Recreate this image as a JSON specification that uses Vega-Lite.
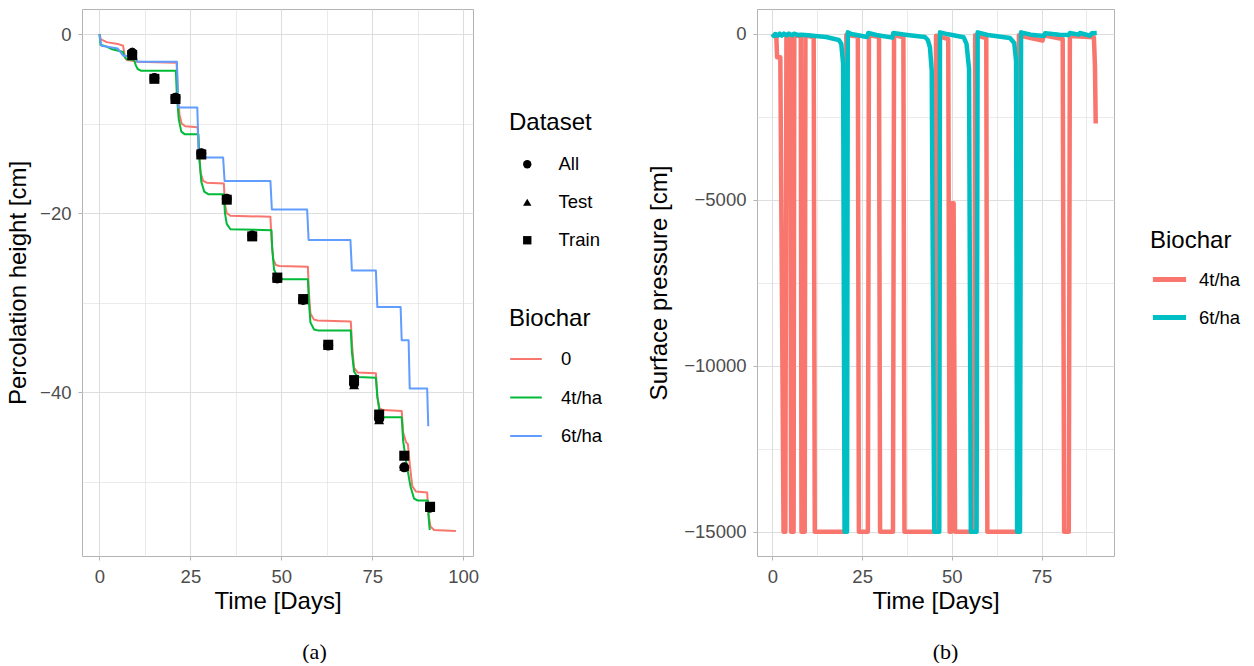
{
  "$schema": "https://vega.github.io/schema/vega-lite/v6.json",
  "padding": {"left": 6, "top": 8, "right": 0, "bottom": 0},
  "background": "white",
  "spacing": 43,
  "resolve": {"scale": {"color": "independent", "shape": "independent"}, "legend": {"color": "independent", "shape": "independent"}},
  "config": {
    "font": "Liberation Sans",
    "view": {"stroke": "#B3B3B3", "strokeWidth": 1},
    "axis": {
      "labelFont": "Liberation Sans", "labelFontSize": 18.5, "labelColor": "#4D4D4D",
      "titleFont": "Liberation Sans", "titleFontSize": 24, "titleFontWeight": "normal", "titleColor": "black",
      "domain": false, "tickColor": "#B3B3B3", "tickSize": 4, "labelPadding": 7,
      "gridColor": "#DEDEDE"
    },
    "legend": {
      "titleFont": "Liberation Sans", "titleFontSize": 24, "titleFontWeight": "normal", "titleColor": "black",
      "labelFont": "Liberation Sans", "labelFontSize": 18.5, "labelColor": "black"
    },
    "title": {"font": "Liberation Serif", "fontSize": 22, "fontWeight": "normal", "color": "black"}
  },
  "datasets": {
    "perc": [
      {"t": 0, "h": 0, "b": "0"}, {"t": 0.4, "h": -0.6, "b": "0"}, {"t": 2, "h": -0.9, "b": "0"}, {"t": 5, "h": -1.1, "b": "0"}, {"t": 6.5, "h": -1.3, "b": "0"}, {"t": 7, "h": -2.6, "b": "0"}, {"t": 7.5, "h": -2.9, "b": "0"}, {"t": 9.5, "h": -3.0, "b": "0"}, {"t": 10, "h": -3.1, "b": "0"}, {"t": 21.2, "h": -3.2, "b": "0"}, {"t": 21.5, "h": -6, "b": "0"}, {"t": 22, "h": -9, "b": "0"}, {"t": 22.6, "h": -10, "b": "0"}, {"t": 23.6, "h": -10.3, "b": "0"}, {"t": 27, "h": -10.4, "b": "0"}, {"t": 27.3, "h": -13, "b": "0"}, {"t": 27.8, "h": -15.5, "b": "0"}, {"t": 28.5, "h": -16.4, "b": "0"}, {"t": 29.5, "h": -16.6, "b": "0"}, {"t": 34.2, "h": -16.7, "b": "0"}, {"t": 34.5, "h": -19, "b": "0"}, {"t": 35, "h": -20, "b": "0"}, {"t": 36, "h": -20.3, "b": "0"}, {"t": 47, "h": -20.4, "b": "0"}, {"t": 47.3, "h": -23, "b": "0"}, {"t": 47.8, "h": -25.2, "b": "0"}, {"t": 48.5, "h": -25.8, "b": "0"}, {"t": 49.5, "h": -25.9, "b": "0"}, {"t": 57.3, "h": -26, "b": "0"}, {"t": 57.6, "h": -29, "b": "0"}, {"t": 58, "h": -31.2, "b": "0"}, {"t": 59, "h": -31.9, "b": "0"}, {"t": 60, "h": -32, "b": "0"}, {"t": 69.1, "h": -32.1, "b": "0"}, {"t": 69.5, "h": -35, "b": "0"}, {"t": 70, "h": -37.3, "b": "0"}, {"t": 71, "h": -37.8, "b": "0"}, {"t": 76, "h": -37.9, "b": "0"}, {"t": 76.4, "h": -40.5, "b": "0"}, {"t": 77, "h": -41.8, "b": "0"}, {"t": 78, "h": -42, "b": "0"}, {"t": 83.1, "h": -42.1, "b": "0"}, {"t": 83.5, "h": -44.5, "b": "0"}, {"t": 84.3, "h": -45.6, "b": "0"}, {"t": 84.8, "h": -45.8, "b": "0"}, {"t": 85.3, "h": -48, "b": "0"}, {"t": 86, "h": -50.5, "b": "0"}, {"t": 87, "h": -51.1, "b": "0"}, {"t": 90.1, "h": -51.2, "b": "0"}, {"t": 90.4, "h": -53.5, "b": "0"}, {"t": 91, "h": -55, "b": "0"}, {"t": 92, "h": -55.4, "b": "0"}, {"t": 98, "h": -55.5, "b": "0"},
      {"t": 0, "h": 0, "b": "4t/ha"}, {"t": 0.3, "h": -1.2, "b": "4t/ha"}, {"t": 2, "h": -1.4, "b": "4t/ha"}, {"t": 3.5, "h": -1.7, "b": "4t/ha"}, {"t": 5.5, "h": -1.9, "b": "4t/ha"}, {"t": 6.5, "h": -2.0, "b": "4t/ha"}, {"t": 7, "h": -2.6, "b": "4t/ha"}, {"t": 7.5, "h": -2.8, "b": "4t/ha"}, {"t": 9.5, "h": -2.9, "b": "4t/ha"}, {"t": 10, "h": -3.5, "b": "4t/ha"}, {"t": 10.5, "h": -3.9, "b": "4t/ha"}, {"t": 11.5, "h": -4.1, "b": "4t/ha"}, {"t": 21, "h": -4.1, "b": "4t/ha"}, {"t": 21.3, "h": -7, "b": "4t/ha"}, {"t": 21.8, "h": -9.5, "b": "4t/ha"}, {"t": 22.5, "h": -10.9, "b": "4t/ha"}, {"t": 23.5, "h": -11.2, "b": "4t/ha"}, {"t": 27.2, "h": -11.2, "b": "4t/ha"}, {"t": 27.5, "h": -14, "b": "4t/ha"}, {"t": 28, "h": -16.5, "b": "4t/ha"}, {"t": 28.8, "h": -17.6, "b": "4t/ha"}, {"t": 30, "h": -17.9, "b": "4t/ha"}, {"t": 34.2, "h": -17.9, "b": "4t/ha"}, {"t": 34.5, "h": -20, "b": "4t/ha"}, {"t": 35, "h": -21.2, "b": "4t/ha"}, {"t": 36, "h": -21.8, "b": "4t/ha"}, {"t": 47.3, "h": -21.9, "b": "4t/ha"}, {"t": 47.5, "h": -24, "b": "4t/ha"}, {"t": 48, "h": -26.3, "b": "4t/ha"}, {"t": 49, "h": -27.2, "b": "4t/ha"}, {"t": 50, "h": -27.4, "b": "4t/ha"}, {"t": 57.3, "h": -27.4, "b": "4t/ha"}, {"t": 57.6, "h": -30, "b": "4t/ha"}, {"t": 58, "h": -32.2, "b": "4t/ha"}, {"t": 59, "h": -33, "b": "4t/ha"}, {"t": 60, "h": -33.1, "b": "4t/ha"}, {"t": 69.1, "h": -33.1, "b": "4t/ha"}, {"t": 69.4, "h": -35.5, "b": "4t/ha"}, {"t": 70, "h": -37.7, "b": "4t/ha"}, {"t": 71, "h": -38.3, "b": "4t/ha"}, {"t": 76, "h": -38.4, "b": "4t/ha"}, {"t": 76.4, "h": -40.5, "b": "4t/ha"}, {"t": 77, "h": -42.2, "b": "4t/ha"}, {"t": 78, "h": -42.8, "b": "4t/ha"}, {"t": 83.1, "h": -42.8, "b": "4t/ha"}, {"t": 83.5, "h": -45.5, "b": "4t/ha"}, {"t": 84.5, "h": -48.2, "b": "4t/ha"}, {"t": 85.5, "h": -50.5, "b": "4t/ha"}, {"t": 86.5, "h": -51.9, "b": "4t/ha"}, {"t": 87.5, "h": -52.1, "b": "4t/ha"}, {"t": 90.3, "h": -52.1, "b": "4t/ha"}, {"t": 90.5, "h": -54, "b": "4t/ha"}, {"t": 90.8, "h": -55.4, "b": "4t/ha"},
      {"t": 0, "h": 0, "b": "6t/ha"}, {"t": 0.5, "h": -1.3, "b": "6t/ha"}, {"t": 5, "h": -1.6, "b": "6t/ha"}, {"t": 6.5, "h": -2.4, "b": "6t/ha"}, {"t": 10, "h": -2.6, "b": "6t/ha"}, {"t": 10.5, "h": -3.1, "b": "6t/ha"}, {"t": 21.3, "h": -3.1, "b": "6t/ha"}, {"t": 21.7, "h": -8.2, "b": "6t/ha"}, {"t": 26.9, "h": -8.2, "b": "6t/ha"}, {"t": 27.3, "h": -13.8, "b": "6t/ha"}, {"t": 34, "h": -13.8, "b": "6t/ha"}, {"t": 34.4, "h": -16.4, "b": "6t/ha"}, {"t": 47, "h": -16.4, "b": "6t/ha"}, {"t": 47.4, "h": -19.6, "b": "6t/ha"}, {"t": 57.1, "h": -19.6, "b": "6t/ha"}, {"t": 57.5, "h": -23.0, "b": "6t/ha"}, {"t": 69, "h": -23.0, "b": "6t/ha"}, {"t": 69.4, "h": -26.4, "b": "6t/ha"}, {"t": 76, "h": -26.4, "b": "6t/ha"}, {"t": 76.4, "h": -30.5, "b": "6t/ha"}, {"t": 82.8, "h": -30.5, "b": "6t/ha"}, {"t": 83.1, "h": -34.2, "b": "6t/ha"}, {"t": 85, "h": -34.2, "b": "6t/ha"}, {"t": 85.3, "h": -39.6, "b": "6t/ha"}, {"t": 90.1, "h": -39.6, "b": "6t/ha"}, {"t": 90.4, "h": -43.8, "b": "6t/ha"}
    ],
    "obs": [
      {"t": 9, "h": -2.1, "d": "All"}, {"t": 15.1, "h": -4.9, "d": "All"}, {"t": 20.9, "h": -7.1, "d": "All"}, {"t": 28, "h": -13.3, "d": "All"}, {"t": 35, "h": -18.4, "d": "All"}, {"t": 42, "h": -22.5, "d": "All"}, {"t": 48.9, "h": -27.3, "d": "All"}, {"t": 56, "h": -29.7, "d": "All"}, {"t": 62.9, "h": -34.8, "d": "All"}, {"t": 70, "h": -39.1, "d": "All"}, {"t": 76.9, "h": -43.0, "d": "All"}, {"t": 83.8, "h": -48.4, "d": "All"}, {"t": 90.9, "h": -52.9, "d": "All"},
      {"t": 9, "h": -1.95, "d": "Test"}, {"t": 15.1, "h": -4.8, "d": "Test"}, {"t": 20.9, "h": -7.0, "d": "Test"}, {"t": 28, "h": -13.2, "d": "Test"}, {"t": 35, "h": -18.3, "d": "Test"}, {"t": 42, "h": -22.45, "d": "Test"}, {"t": 48.9, "h": -27.3, "d": "Test"}, {"t": 56, "h": -29.7, "d": "Test"}, {"t": 62.9, "h": -34.8, "d": "Test"}, {"t": 70, "h": -39.2, "d": "Test"}, {"t": 76.9, "h": -43.1, "d": "Test"}, {"t": 83.8, "h": -48.3, "d": "Test"}, {"t": 90.9, "h": -52.9, "d": "Test"},
      {"t": 9, "h": -2.35, "d": "Train"}, {"t": 15.1, "h": -5.0, "d": "Train"}, {"t": 20.9, "h": -7.25, "d": "Train"}, {"t": 28, "h": -13.45, "d": "Train"}, {"t": 35, "h": -18.5, "d": "Train"}, {"t": 42, "h": -22.6, "d": "Train"}, {"t": 48.9, "h": -27.2, "d": "Train"}, {"t": 56, "h": -29.6, "d": "Train"}, {"t": 62.9, "h": -34.7, "d": "Train"}, {"t": 70, "h": -38.65, "d": "Train"}, {"t": 76.9, "h": -42.5, "d": "Train"}, {"t": 83.8, "h": -47.1, "d": "Train"}, {"t": 90.9, "h": -52.8, "d": "Train"}
    ],
    "press": [
      {"t": 0, "p": 0, "b": "4t/ha"}, {"t": 1.1, "p": -100, "b": "4t/ha"}, {"t": 1.3, "p": -700, "b": "4t/ha"}, {"t": 2.2, "p": -700, "b": "4t/ha"}, {"t": 3.1, "p": -15000, "b": "4t/ha"}, {"t": 3.6, "p": -15000, "b": "4t/ha"}, {"t": 3.9, "p": -50, "b": "4t/ha"}, {"t": 5.0, "p": -60, "b": "4t/ha"}, {"t": 5.2, "p": -15000, "b": "4t/ha"}, {"t": 5.9, "p": -15000, "b": "4t/ha"}, {"t": 6.1, "p": -40, "b": "4t/ha"}, {"t": 7.9, "p": -70, "b": "4t/ha"}, {"t": 8.1, "p": -15000, "b": "4t/ha"}, {"t": 9.0, "p": -15000, "b": "4t/ha"}, {"t": 9.2, "p": -40, "b": "4t/ha"}, {"t": 11.5, "p": -100, "b": "4t/ha"}, {"t": 11.8, "p": -15000, "b": "4t/ha"}, {"t": 20.3, "p": -15000, "b": "4t/ha"}, {"t": 20.6, "p": -30, "b": "4t/ha"}, {"t": 23.8, "p": -80, "b": "4t/ha"}, {"t": 24.1, "p": -15000, "b": "4t/ha"}, {"t": 26.6, "p": -15000, "b": "4t/ha"}, {"t": 26.9, "p": -30, "b": "4t/ha"}, {"t": 29.7, "p": -90, "b": "4t/ha"}, {"t": 30.0, "p": -15000, "b": "4t/ha"}, {"t": 33.6, "p": -15000, "b": "4t/ha"}, {"t": 33.9, "p": -30, "b": "4t/ha"}, {"t": 36.5, "p": -100, "b": "4t/ha"}, {"t": 36.8, "p": -15000, "b": "4t/ha"}, {"t": 45.3, "p": -15000, "b": "4t/ha"}, {"t": 45.6, "p": -50, "b": "4t/ha"}, {"t": 49.0, "p": -150, "b": "4t/ha"}, {"t": 49.4, "p": -15000, "b": "4t/ha"}, {"t": 49.8, "p": -15000, "b": "4t/ha"}, {"t": 50.0, "p": -5100, "b": "4t/ha"}, {"t": 50.5, "p": -5100, "b": "4t/ha"}, {"t": 50.9, "p": -15000, "b": "4t/ha"}, {"t": 56.2, "p": -15000, "b": "4t/ha"}, {"t": 56.5, "p": -40, "b": "4t/ha"}, {"t": 59.6, "p": -120, "b": "4t/ha"}, {"t": 59.9, "p": -15000, "b": "4t/ha"}, {"t": 68.4, "p": -15000, "b": "4t/ha"}, {"t": 68.7, "p": -40, "b": "4t/ha"}, {"t": 72, "p": -120, "b": "4t/ha"}, {"t": 75.3, "p": -200, "b": "4t/ha"}, {"t": 75.6, "p": -40, "b": "4t/ha"}, {"t": 80.9, "p": -150, "b": "4t/ha"}, {"t": 81.3, "p": -15000, "b": "4t/ha"}, {"t": 82.6, "p": -15000, "b": "4t/ha"}, {"t": 82.9, "p": -60, "b": "4t/ha"}, {"t": 89.6, "p": -100, "b": "4t/ha"}, {"t": 89.9, "p": -1000, "b": "4t/ha"}, {"t": 90.1, "p": -2700, "b": "4t/ha"},
      {"t": 0, "p": 0, "b": "6t/ha"}, {"t": 0.4, "p": -60, "b": "6t/ha"}, {"t": 0.8, "p": 0, "b": "6t/ha"}, {"t": 1.5, "p": -50, "b": "6t/ha"}, {"t": 2.0, "p": 10, "b": "6t/ha"}, {"t": 2.6, "p": -50, "b": "6t/ha"}, {"t": 3.2, "p": 10, "b": "6t/ha"}, {"t": 4.0, "p": -40, "b": "6t/ha"}, {"t": 4.6, "p": 10, "b": "6t/ha"}, {"t": 5.5, "p": -40, "b": "6t/ha"}, {"t": 6.0, "p": 10, "b": "6t/ha"}, {"t": 7.0, "p": -30, "b": "6t/ha"}, {"t": 8, "p": -20, "b": "6t/ha"}, {"t": 10, "p": -40, "b": "6t/ha"}, {"t": 12, "p": -60, "b": "6t/ha"}, {"t": 15, "p": -90, "b": "6t/ha"}, {"t": 18.5, "p": -180, "b": "6t/ha"}, {"t": 19.2, "p": -300, "b": "6t/ha"}, {"t": 19.7, "p": -900, "b": "6t/ha"}, {"t": 20.1, "p": -15000, "b": "6t/ha"}, {"t": 20.8, "p": -15000, "b": "6t/ha"}, {"t": 21.0, "p": 50, "b": "6t/ha"}, {"t": 22, "p": 0, "b": "6t/ha"}, {"t": 26.4, "p": -90, "b": "6t/ha"}, {"t": 26.7, "p": 30, "b": "6t/ha"}, {"t": 29, "p": -30, "b": "6t/ha"}, {"t": 33.4, "p": -110, "b": "6t/ha"}, {"t": 33.7, "p": 30, "b": "6t/ha"}, {"t": 37, "p": -20, "b": "6t/ha"}, {"t": 42.5, "p": -90, "b": "6t/ha"}, {"t": 43.3, "p": -180, "b": "6t/ha"}, {"t": 43.9, "p": -400, "b": "6t/ha"}, {"t": 44.4, "p": -1100, "b": "6t/ha"}, {"t": 45.1, "p": -15000, "b": "6t/ha"}, {"t": 46.5, "p": -15000, "b": "6t/ha"}, {"t": 46.7, "p": 50, "b": "6t/ha"}, {"t": 49, "p": -10, "b": "6t/ha"}, {"t": 53.3, "p": -100, "b": "6t/ha"}, {"t": 54.1, "p": -300, "b": "6t/ha"}, {"t": 54.8, "p": -1050, "b": "6t/ha"}, {"t": 55.3, "p": -15000, "b": "6t/ha"}, {"t": 56.9, "p": -15000, "b": "6t/ha"}, {"t": 57.2, "p": 50, "b": "6t/ha"}, {"t": 60, "p": -30, "b": "6t/ha"}, {"t": 66.2, "p": -120, "b": "6t/ha"}, {"t": 67.4, "p": -270, "b": "6t/ha"}, {"t": 67.9, "p": -800, "b": "6t/ha"}, {"t": 68.2, "p": -15000, "b": "6t/ha"}, {"t": 69.0, "p": -15000, "b": "6t/ha"}, {"t": 69.3, "p": 50, "b": "6t/ha"}, {"t": 72, "p": -20, "b": "6t/ha"}, {"t": 75.7, "p": -60, "b": "6t/ha"}, {"t": 76.0, "p": 20, "b": "6t/ha"}, {"t": 80, "p": -20, "b": "6t/ha"}, {"t": 82.6, "p": -30, "b": "6t/ha"}, {"t": 82.9, "p": 30, "b": "6t/ha"}, {"t": 85.4, "p": -20, "b": "6t/ha"}, {"t": 85.7, "p": 30, "b": "6t/ha"}, {"t": 88.5, "p": -50, "b": "6t/ha"}, {"t": 89, "p": 20, "b": "6t/ha"}, {"t": 90.4, "p": 30, "b": "6t/ha"}
    ]
  },
  "hconcat": [
    {
      "width": 391, "height": 547,
      "title": {"text": "(a)", "orient": "bottom", "anchor": "middle", "frame": "group", "dx": 37, "offset": 28},
      "layer": [
        {
          "data": {"name": "perc"},
          "mark": {"type": "line", "strokeWidth": 2, "strokeJoin": "round", "clip": true},
          "encoding": {
            "x": {"field": "t", "type": "quantitative", "title": "Time [Days]",
              "scale": {"domain": [-4.8, 102.7], "nice": false, "zero": false},
              "axis": {"values": [0, 12.5, 25, 37.5, 50, 62.5, 75, 87.5, 100], "labelExpr": "datum.value % 25 === 0 ? datum.label : ''",
                "tickOpacity": {"condition": {"test": "datum.value % 25 === 0", "value": 1}, "value": 0},
                "gridWidth": {"condition": {"test": "datum.value % 25 === 0", "value": 1.1}, "value": 0.6},
                "labelFlush": false, "titlePadding": 4}},
            "y": {"field": "h", "type": "quantitative", "title": "Percolation height [cm]",
              "scale": {"domain": [-58.3, 2.8], "nice": false, "zero": false},
              "axis": {"values": [-50, -40, -30, -20, -10, 0], "labelExpr": "datum.value % 20 === 0 ? datum.label : ''",
                "tickOpacity": {"condition": {"test": "datum.value % 20 === 0", "value": 1}, "value": 0},
                "gridWidth": {"condition": {"test": "datum.value % 20 === 0", "value": 1.1}, "value": 0.6},
                "labelFlush": false, "labelPadding": 7, "titlePadding": 9}},
            "color": {"field": "b", "type": "nominal",
              "scale": {"domain": ["0", "4t/ha", "6t/ha"], "range": ["#F8766D", "#00BA38", "#619CFF"]},
              "legend": {"title": "Biochar", "orient": "none", "legendX": 427, "legendY": 298, "symbolType": "stroke", "symbolSize": 1000, "symbolStrokeWidth": 2, "rowPadding": 11.5, "titlePadding": 11, "labelOffset": 18}}
          }
        },
        {
          "data": {"name": "obs"},
          "mark": {"type": "point", "filled": true, "size": 100, "color": "black", "opacity": 1},
          "encoding": {
            "x": {"field": "t", "type": "quantitative"},
            "y": {"field": "h", "type": "quantitative"},
            "shape": {"field": "d", "type": "nominal",
              "scale": {"domain": ["All", "Test", "Train"], "range": ["circle", "triangle-up", "square"]},
              "legend": {"title": "Dataset", "orient": "none", "legendX": 427, "legendY": 102, "symbolSize": 70, "symbolFillColor": "black", "symbolStrokeColor": "black", "rowPadding": 19, "titlePadding": 20, "symbolOffset": 9, "labelOffset": 22}}
          }
        }
      ]
    },
    {
      "width": 357, "height": 547,
      "title": {"text": "(b)", "orient": "bottom", "anchor": "middle", "frame": "group", "dx": 10, "offset": 28},
      "data": {"name": "press"},
      "mark": {"type": "line", "strokeWidth": 4.5, "strokeJoin": "round", "clip": true},
      "encoding": {
        "x": {"field": "t", "type": "quantitative", "title": "Time [Days]",
          "scale": {"domain": [-4.3, 95.2], "nice": false, "zero": false},
          "axis": {"values": [0, 12.5, 25, 37.5, 50, 62.5, 75, 87.5], "labelExpr": "datum.value % 25 === 0 ? datum.label : ''",
            "tickOpacity": {"condition": {"test": "datum.value % 25 === 0", "value": 1}, "value": 0},
            "gridWidth": {"condition": {"test": "datum.value % 25 === 0", "value": 1.1}, "value": 0.6},
            "labelFlush": false, "titlePadding": 4}},
        "y": {"field": "p", "type": "quantitative", "title": "Surface pressure [cm]",
          "scale": {"domain": [-15732, 753], "nice": false, "zero": false},
          "axis": {"values": [-15000, -12500, -10000, -7500, -5000, -2500, 0], "format": "d", "labelExpr": "datum.value % 5000 === 0 ? datum.label : ''",
            "tickOpacity": {"condition": {"test": "datum.value % 5000 === 0", "value": 1}, "value": 0},
            "gridWidth": {"condition": {"test": "datum.value % 5000 === 0", "value": 1.1}, "value": 0.6},
            "labelFlush": false, "labelPadding": 7, "titlePadding": 12}},
        "color": {"field": "b", "type": "nominal",
          "scale": {"domain": ["4t/ha", "6t/ha"], "range": ["#F8766D", "#00BFC4"]},
          "legend": {"title": "Biochar", "orient": "none", "legendX": 393, "legendY": 220, "symbolType": "stroke", "symbolSize": 1100, "symbolStrokeWidth": 5, "rowPadding": 8, "titlePadding": 7, "labelOffset": 10}}
      }
    }
  ]
}
